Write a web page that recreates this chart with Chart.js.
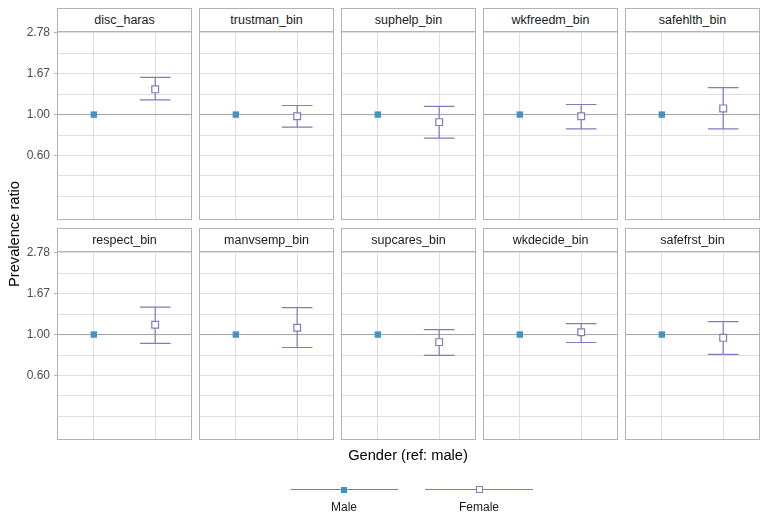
<!DOCTYPE html>
<html>
<head>
<meta charset="utf-8">
<script src="https://cdn.jsdelivr.net/npm/chart.js@4.4.1/dist/chart.umd.min.js"></script>
<style>
body{margin:0;background:#fff;font-family:"Liberation Sans",Arial,sans-serif;}
#fig{position:relative;width:768px;height:528px;overflow:hidden;}
.strip{position:absolute;box-sizing:border-box;border:1px solid #B3B3B3;width:135px;height:24px;text-align:center;font-size:12.5px;line-height:22px;color:#1A1A1A;}
canvas{position:absolute;}
.title{position:absolute;font-size:14.67px;color:#000;white-space:nowrap;}
.lg-line{position:absolute;height:1px;}
.lg-lab{position:absolute;font-size:12px;color:#1A1A1A;width:80px;text-align:center;}
</style>
</head>
<body>
<div id="fig"></div>
<script>
// facets, groups and estimates
const panels = ['disc_haras','trustman_bin','suphelp_bin','wkfreedm_bin','safehlth_bin',
                'respect_bin','manvsemp_bin','supcares_bin','wkdecide_bin','safefrst_bin'];
const genders = ['Male','Female'];
const maleRatio   = [1, 1, 1, 1, 1, 1, 1, 1, 1, 1];
const femaleRatio = [1.37, 0.98, 0.91, 0.98, 1.08, 1.13, 1.09, 0.91, 1.03, 0.96];
const femaleLower = [1.20, 0.855, 0.745, 0.836, 0.836, 0.895, 0.851, 0.771, 0.906, 0.781];
const femaleUpper = [1.59, 1.12, 1.107, 1.134, 1.40, 1.41, 1.40, 1.064, 1.146, 1.175];
const refLine = 1;

// y axis (log scale)
const yTickValues = [0.6, 1, 1.6667, 2.7778];
const yTickLabels = ['0.60', '1.00', '1.67', '2.78'];
const yExtraGrid  = [0.36, 0.4648, 0.7746, 1.291, 2.1517];
const yMin = 0.268, yMax = 2.84;
const xMin = 0.4, xMax = 2.6;
const capHalf = 0.25;

const maleColor = '#4292C6';
const femaleColor = '#807DBA';
const gridColor = '#DEDEDE';
const borderColor = '#B3B3B3';

const colLeft = [57, 199, 341, 483, 625];
const rowTop = [31, 251];
const panelW = 135, panelH = 189, pad = 10;

const fig = document.getElementById('fig');

const panelPlugin = {
  id: 'panel',
  beforeDatasetDraw(chart, args, opts) {
    if (args.index !== 1) return;
    const i = opts.idx;
    const xs = chart.scales.x, ys = chart.scales.y;
    const ctx = chart.ctx;
    const px = xs.getPixelForValue(2);
    const pl = xs.getPixelForValue(2 - capHalf);
    const pr = xs.getPixelForValue(2 + capHalf);
    const yl = ys.getPixelForValue(femaleLower[i]);
    const yu = ys.getPixelForValue(femaleUpper[i]);
    ctx.save();
    ctx.strokeStyle = femaleColor;
    ctx.lineWidth = 1.2;
    ctx.beginPath();
    ctx.moveTo(px, yl); ctx.lineTo(px, yu);
    ctx.moveTo(pl, yl); ctx.lineTo(pr, yl);
    ctx.moveTo(pl, yu); ctx.lineTo(pr, yu);
    ctx.stroke();
    ctx.restore();
  },
  afterDraw(chart) {
    const a = chart.chartArea;
    const ctx = chart.ctx;
    ctx.save();
    ctx.strokeStyle = borderColor;
    ctx.lineWidth = 1;
    ctx.strokeRect(a.left + 0.5, a.top + 0.5, a.right - a.left - 1, a.bottom - a.top - 1);
    ctx.restore();
  }
};

panels.forEach((name, i) => {
  const row = Math.floor(i / 5), col = i % 5;
  const first = col === 0;

  const strip = document.createElement('div');
  strip.className = 'strip';
  strip.style.left = colLeft[col] + 'px';
  strip.style.top = (rowTop[row] - 23) + 'px';
  strip.textContent = name;
  fig.appendChild(strip);

  const cv = document.createElement('canvas');
  const left = first ? 0 : colLeft[col];
  const w = first ? colLeft[0] + panelW : panelW;
  cv.width = w;
  cv.height = panelH + 2 * pad;
  cv.style.left = left + 'px';
  cv.style.top = (rowTop[row] - pad) + 'px';
  fig.appendChild(cv);

  new Chart(cv.getContext('2d'), {
    type: 'scatter',
    data: {
      datasets: [
        {
          label: genders[0],
          data: [{x: 1, y: maleRatio[i]}],
          pointStyle: 'rect',
          pointRadius: 4.5,
          backgroundColor: maleColor,
          borderWidth: 0,
          order: 0
        },
        {
          label: genders[1],
          data: [{x: 2, y: femaleRatio[i]}],
          pointStyle: 'rect',
          pointRadius: 4.8,
          backgroundColor: '#FFFFFF',
          borderColor: femaleColor,
          borderWidth: 1.2,
          order: 1
        },
        {
          type: 'line',
          label: 'ref',
          data: [{x: xMin, y: refLine}, {x: xMax, y: refLine}],
          borderColor: '#A3A3A3',
          borderWidth: 1,
          pointRadius: 0,
          order: 2
        }
      ]
    },
    options: {
      responsive: false,
      animation: false,
      events: [],
      layout: {autoPadding: false, padding: {top: pad, bottom: pad, left: 0, right: 0}},
      scales: {
        x: {
          type: 'linear',
          min: xMin,
          max: xMax,
          afterBuildTicks: s => { s.ticks = [{value: 1}, {value: 2}]; },
          afterFit: s => { s.height = 0; s.paddingLeft = 0; s.paddingRight = 0; },
          ticks: {display: false},
          grid: {color: gridColor, drawTicks: false},
          border: {display: false}
        },
        y: {
          type: 'logarithmic',
          min: yMin,
          max: yMax,
          afterBuildTicks: s => {
            s.ticks = yExtraGrid.concat(yTickValues).sort((a, b) => a - b).map(v => ({value: v}));
          },
          afterFit: s => {
            s.width = first ? colLeft[0] : 0;
            s.paddingTop = 0;
            s.paddingBottom = 0;
          },
          ticks: {
            display: first,
            autoSkip: false,
            padding: 4,
            color: '#4D4D4D',
            font: {family: 'Liberation Sans', size: 12},
            callback: v => {
              const k = yTickValues.indexOf(v);
              return k >= 0 ? yTickLabels[k] : '';
            }
          },
          grid: {
            color: gridColor,
            drawTicks: first,
            tickLength: 3,
            tickColor: c => yTickValues.indexOf(c.tick.value) >= 0 ? borderColor : 'rgba(0,0,0,0)'
          },
          border: {display: false}
        }
      },
      plugins: {
        legend: {display: false},
        tooltip: {enabled: false},
        panel: {idx: i}
      }
    },
    plugins: [panelPlugin]
  });
});

// axis titles
const yTitle = document.createElement('div');
yTitle.className = 'title';
yTitle.textContent = 'Prevalence ratio';
yTitle.style.left = '14px';
yTitle.style.top = '234px';
yTitle.style.transform = 'translate(-50%,-50%) rotate(-90deg)';
fig.appendChild(yTitle);

const xTitle = document.createElement('div');
xTitle.className = 'title';
xTitle.textContent = 'Gender (ref: male)';
xTitle.style.left = '408px';
xTitle.style.top = '455px';
xTitle.style.transform = 'translate(-50%,-50%)';
fig.appendChild(xTitle);

// legend
const legendItems = [
  {label: genders[0], color: maleColor, x0: 291, x1: 398, cx: 344, fill: maleColor, size: 6},
  {label: genders[1], color: femaleColor, x0: 425, x1: 533, cx: 479, fill: '#FFFFFF', size: 7}
];
legendItems.forEach(it => {
  const ln = document.createElement('div');
  ln.className = 'lg-line';
  ln.style.left = it.x0 + 'px';
  ln.style.width = (it.x1 - it.x0) + 'px';
  ln.style.top = '489px';
  ln.style.background = it.color;
  fig.appendChild(ln);
  const mk = document.createElement('div');
  mk.style.position = 'absolute';
  mk.style.boxSizing = 'border-box';
  mk.style.width = it.size + 'px';
  mk.style.height = it.size + 'px';
  mk.style.left = (it.cx - it.size / 2) + 'px';
  mk.style.top = (489.5 - it.size / 2) + 'px';
  mk.style.background = it.fill;
  mk.style.border = it.fill === '#FFFFFF' ? '1px solid ' + it.color : 'none';
  fig.appendChild(mk);
  const lb = document.createElement('div');
  lb.className = 'lg-lab';
  lb.textContent = it.label;
  lb.style.left = (it.cx - 40) + 'px';
  lb.style.top = '500px';
  fig.appendChild(lb);
});
</script>
</body>
</html>
